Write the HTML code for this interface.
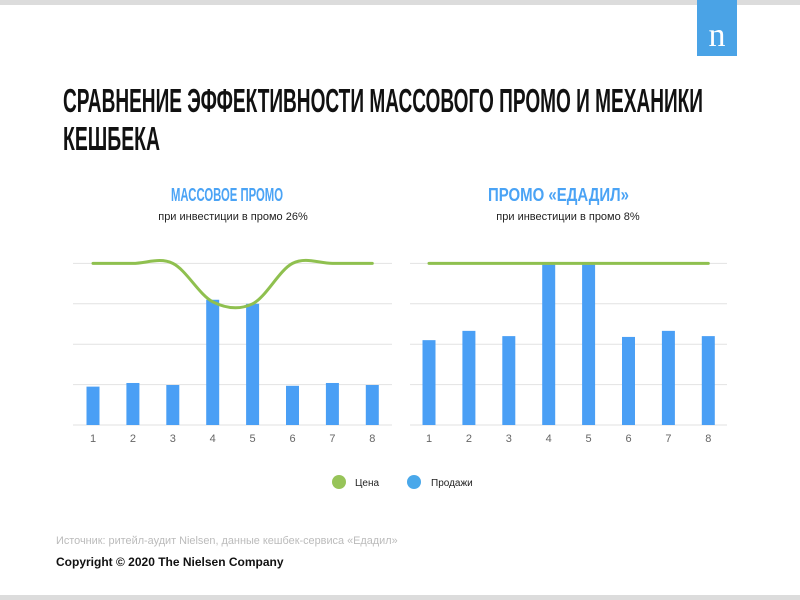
<!DOCTYPE html>
<html><head><meta charset="utf-8"><style>
body{margin:0;background:#fff}
svg{display:block;font-family:"Liberation Sans",sans-serif}
</style></head><body>
<svg width="800" height="600" viewBox="0 0 800 600">
<rect x="0" y="0" width="800" height="5" fill="#dcdcdc"/>
<rect x="0" y="595" width="800" height="5" fill="#dcdcdc"/>
<g>
<rect x="697" y="0" width="40" height="56" fill="#4aa3e6"/>
<text x="717" y="46" text-anchor="middle" font-family="Liberation Serif,serif" font-size="34" fill="#fff">n</text>
</g>
<g font-family="'Liberation Sans Narrow','Liberation Sans',sans-serif" font-weight="bold" font-size="33" fill="#111">
<text x="63" y="112" textLength="640" lengthAdjust="spacingAndGlyphs">СРАВНЕНИЕ ЭФФЕКТИВНОСТИ МАССОВОГО ПРОМО И МЕХАНИКИ</text>
<text x="63" y="150" textLength="97" lengthAdjust="spacingAndGlyphs">КЕШБЕКА</text>
</g>
<g font-family="'Liberation Sans Narrow','Liberation Sans',sans-serif" font-weight="bold" font-size="18" fill="#4aa3f5">
<text x="171" y="201" textLength="112" lengthAdjust="spacingAndGlyphs">МАССОВОЕ ПРОМО</text>
<text x="488" y="201" textLength="141" lengthAdjust="spacingAndGlyphs" style="font-stretch:condensed">ПРОМО «ЕДАДИЛ»</text>
</g>
<text x="233" y="220" text-anchor="middle" font-size="11" fill="#222">при инвестиции в промо 26%</text>
<text x="568" y="220" text-anchor="middle" font-size="11" fill="#222">при инвестиции в промо 8%</text>
<g id="charts"></g>
<g>
<circle cx="339" cy="482" r="7" fill="#97c459"/>
<text x="355" y="486" font-size="10" fill="#222">Цена</text>
<circle cx="414" cy="482" r="7" fill="#4aa8ea"/>
<text x="431" y="486" font-size="10" fill="#222">Продажи</text>
</g>
<text x="56" y="544" font-size="10.9" fill="#bbb">Источник: ритейл-аудит Nielsen, данные кешбек-сервиса «Едадил»</text>
<text x="56" y="566" font-size="12" font-weight="bold" fill="#111">Copyright © 2020 The Nielsen Company</text>
</svg>
<script>
const categories=['1','2','3','4','5','6','7','8'];
const leftSales=[0.95,1.04,0.99,3.1,3.0,0.97,1.04,0.99];
const leftPrice=[4.0,4.0,4.0,3.05,3.0,4.0,4.0,4.0];
const rightSales=[2.1,2.33,2.2,3.97,3.97,2.18,2.33,2.2];
const rightPrice=[4.0,4.0,4.0,4.0,4.0,4.0,4.0,4.0];
const gridValues=[0,1,2,3,4];
const NS='http://www.w3.org/2000/svg';
const root=document.getElementById('charts');
function mk(t,a,p){const e=document.createElementNS(NS,t);for(const k in a)e.setAttribute(k,a[k]);p.appendChild(e);return e;}
function drawChart(name,x0,gx0,gx1,sales,price,smooth){
  const y=v=>425-v*40.4;
  const x=i=>x0+i*39.9;
  const g=mk('g',{},root);
  
  
  gridValues.forEach(v=>{const l=mk('line',{x1:gx0,x2:gx1,y1:y(v),y2:y(v),stroke:'#e2e2e2','stroke-width':1},g);
    
    });
  sales.forEach((v,i)=>{const r=mk('rect',{x:x(i)-6.5,y:y(v),width:13,height:y(0)-y(v),fill:'#4a9ff5'},g);
    
    });
  categories.forEach((c,i)=>{const t=mk('text',{x:x(i),y:442,'text-anchor':'middle','font-size':11,fill:'#666'},g);t.textContent=c;
    
    });
  const pts=price.map((v,i)=>[x(i),y(v)]);
  let d='M'+pts[0][0]+','+pts[0][1];
  for(let i=0;i<pts.length-1;i++){
    const p0=pts[Math.max(0,i-1)],p1=pts[i],p2=pts[i+1],p3=pts[Math.min(pts.length-1,i+2)];
    const k=smooth?6:1e9;
    d+=' C'+(p1[0]+(p2[0]-p0[0])/k)+','+(p1[1]+(p2[1]-p0[1])/k)+' '+(p2[0]-(p3[0]-p1[0])/k)+','+(p2[1]-(p3[1]-p1[1])/k)+' '+p2[0]+','+p2[1];
  }
  const pl=mk('path',{d:d,fill:'none',stroke:'#8fc04f','stroke-width':3,'stroke-linecap':'round'},g);
  
  
}
drawChart('left-chart',93,73,392,leftSales,leftPrice,true);
drawChart('right-chart',429,410,727,rightSales,rightPrice,true);
</script>
</body></html>
